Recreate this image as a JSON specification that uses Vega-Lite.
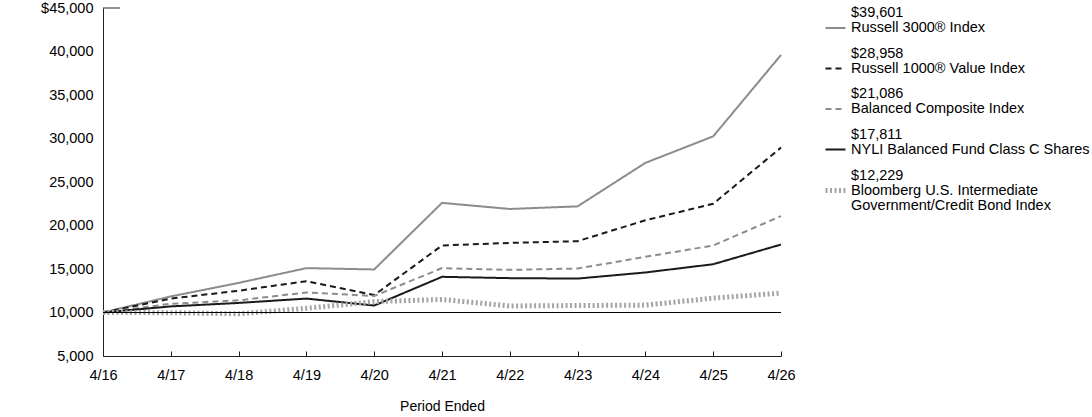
{
  "$schema": "https://vega.github.io/schema/vega-lite/v6.json",
  "width": 678,
  "height": 348,
  "autosize": {"type": "none"},
  "padding": {"left": 103, "top": 8, "right": 311, "bottom": 61},
  "background": "white",
  "config": {
    "font": "Liberation Sans",
    "view": {"stroke": null},
    "axis": {"labelFont": "Liberation Sans", "titleFont": "Liberation Sans", "labelColor": "#000", "titleColor": "#000", "grid": false}
  },
  "datasets": {
    "series": [
      {"idx": 0, "series": "Russell 3000® Index", "value": 10000},
      {"idx": 1, "series": "Russell 3000® Index", "value": 11850},
      {"idx": 2, "series": "Russell 3000® Index", "value": 13400},
      {"idx": 3, "series": "Russell 3000® Index", "value": 15100},
      {"idx": 4, "series": "Russell 3000® Index", "value": 14950},
      {"idx": 5, "series": "Russell 3000® Index", "value": 22600},
      {"idx": 6, "series": "Russell 3000® Index", "value": 21900},
      {"idx": 7, "series": "Russell 3000® Index", "value": 22200},
      {"idx": 8, "series": "Russell 3000® Index", "value": 27200},
      {"idx": 9, "series": "Russell 3000® Index", "value": 30250},
      {"idx": 10, "series": "Russell 3000® Index", "value": 39601},
      {"idx": 0, "series": "Russell 1000® Value Index", "value": 10000},
      {"idx": 1, "series": "Russell 1000® Value Index", "value": 11600},
      {"idx": 2, "series": "Russell 1000® Value Index", "value": 12500},
      {"idx": 3, "series": "Russell 1000® Value Index", "value": 13600},
      {"idx": 4, "series": "Russell 1000® Value Index", "value": 12000},
      {"idx": 5, "series": "Russell 1000® Value Index", "value": 17700},
      {"idx": 6, "series": "Russell 1000® Value Index", "value": 18000},
      {"idx": 7, "series": "Russell 1000® Value Index", "value": 18200},
      {"idx": 8, "series": "Russell 1000® Value Index", "value": 20600},
      {"idx": 9, "series": "Russell 1000® Value Index", "value": 22500},
      {"idx": 10, "series": "Russell 1000® Value Index", "value": 28958},
      {"idx": 0, "series": "Balanced Composite Index", "value": 10000},
      {"idx": 1, "series": "Balanced Composite Index", "value": 11000},
      {"idx": 2, "series": "Balanced Composite Index", "value": 11400},
      {"idx": 3, "series": "Balanced Composite Index", "value": 12300},
      {"idx": 4, "series": "Balanced Composite Index", "value": 11900},
      {"idx": 5, "series": "Balanced Composite Index", "value": 15100},
      {"idx": 6, "series": "Balanced Composite Index", "value": 14900},
      {"idx": 7, "series": "Balanced Composite Index", "value": 15050},
      {"idx": 8, "series": "Balanced Composite Index", "value": 16400},
      {"idx": 9, "series": "Balanced Composite Index", "value": 17700},
      {"idx": 10, "series": "Balanced Composite Index", "value": 21086},
      {"idx": 0, "series": "NYLI Balanced Fund Class C Shares", "value": 10000},
      {"idx": 1, "series": "NYLI Balanced Fund Class C Shares", "value": 10700},
      {"idx": 2, "series": "NYLI Balanced Fund Class C Shares", "value": 11100},
      {"idx": 3, "series": "NYLI Balanced Fund Class C Shares", "value": 11600},
      {"idx": 4, "series": "NYLI Balanced Fund Class C Shares", "value": 10800},
      {"idx": 5, "series": "NYLI Balanced Fund Class C Shares", "value": 14100},
      {"idx": 6, "series": "NYLI Balanced Fund Class C Shares", "value": 13950},
      {"idx": 7, "series": "NYLI Balanced Fund Class C Shares", "value": 13900},
      {"idx": 8, "series": "NYLI Balanced Fund Class C Shares", "value": 14600},
      {"idx": 9, "series": "NYLI Balanced Fund Class C Shares", "value": 15550},
      {"idx": 10, "series": "NYLI Balanced Fund Class C Shares", "value": 17811},
      {"idx": 0, "series": "Bloomberg U.S. Intermediate Government/Credit Bond Index", "value": 10000},
      {"idx": 1, "series": "Bloomberg U.S. Intermediate Government/Credit Bond Index", "value": 9980},
      {"idx": 2, "series": "Bloomberg U.S. Intermediate Government/Credit Bond Index", "value": 9850},
      {"idx": 3, "series": "Bloomberg U.S. Intermediate Government/Credit Bond Index", "value": 10480},
      {"idx": 4, "series": "Bloomberg U.S. Intermediate Government/Credit Bond Index", "value": 11250},
      {"idx": 5, "series": "Bloomberg U.S. Intermediate Government/Credit Bond Index", "value": 11500},
      {"idx": 6, "series": "Bloomberg U.S. Intermediate Government/Credit Bond Index", "value": 10750},
      {"idx": 7, "series": "Bloomberg U.S. Intermediate Government/Credit Bond Index", "value": 10800},
      {"idx": 8, "series": "Bloomberg U.S. Intermediate Government/Credit Bond Index", "value": 10850},
      {"idx": 9, "series": "Bloomberg U.S. Intermediate Government/Credit Bond Index", "value": 11650},
      {"idx": 10, "series": "Bloomberg U.S. Intermediate Government/Credit Bond Index", "value": 12229}
    ]
  },
  "layer": [
    {
      "data": {"name": "series"},
      "mark": {"type": "line", "strokeCap": "butt", "strokeJoin": "miter"},
      "encoding": {
        "x": {
          "field": "idx", "type": "quantitative",
          "scale": {"domain": [0, 10], "nice": false, "zero": false},
          "axis": {
            "values": [0, 1, 2, 3, 4, 5, 6, 7, 8, 9, 10],
            "labelExpr": "'4/' + (16 + datum.value)",
            "labelFontSize": 14.5, "labelPadding": 17,
            "tickSize": -5, "tickColor": "#222", "domainColor": "#222",
            "labelFlush": false, "labelOverlap": false,
            "title": "Period Ended", "titleFontSize": 14, "titleFontWeight": "normal", "titlePadding": 18
          }
        },
        "y": {
          "field": "value", "type": "quantitative",
          "scale": {"domain": [5000, 45000], "nice": false, "zero": false},
          "axis": {
            "values": [5000, 10000, 15000, 20000, 25000, 30000, 35000, 40000, 45000],
            "labelExpr": "datum.value == 45000 ? '$45,000' : format(datum.value, ',')",
            "labelFontSize": 14.5, "labelPadding": 10, "ticks": false,
            "domainColor": "#222", "title": null
          }
        },
        "color": {
          "field": "series", "type": "nominal",
          "scale": {
            "domain": ["Russell 3000® Index", "Russell 1000® Value Index", "Balanced Composite Index", "NYLI Balanced Fund Class C Shares", "Bloomberg U.S. Intermediate Government/Credit Bond Index"],
            "range": ["#8c8c8c", "#1a1a1a", "#8c8c8c", "#1a1a1a", "#a4a4a4"]
          },
          "legend": {
            "orient": "none", "legendX": 720, "legendY": 9, "title": null, "padding": 0,
            "symbolType": "stroke", "symbolSize": 400, "labelFontSize": 14.5, "labelFont": "Liberation Sans",
            "labelColor": "#000", "labelLimit": 400, "rowPadding": 10.5, "labelOffset": 3,
            "labelExpr": "datum.label == 'Russell 3000® Index' ? ['$39,601', 'Russell 3000® Index'] : datum.label == 'Russell 1000® Value Index' ? ['$28,958', 'Russell 1000® Value Index'] : datum.label == 'Balanced Composite Index' ? ['$21,086', 'Balanced Composite Index'] : datum.label == 'NYLI Balanced Fund Class C Shares' ? ['$17,811', 'NYLI Balanced Fund Class C Shares'] : ['$12,229', 'Bloomberg U.S. Intermediate', 'Government/Credit Bond Index']",
            "encode": {
              "labels": {"update": {"dy": {"value": -15}, "lineHeight": {"value": 15}}}
            }
          }
        },
        "strokeDash": {
          "field": "series", "type": "nominal",
          "scale": {
            "domain": ["Russell 3000® Index", "Russell 1000® Value Index", "Balanced Composite Index", "NYLI Balanced Fund Class C Shares", "Bloomberg U.S. Intermediate Government/Credit Bond Index"],
            "range": [[1, 0], [6, 4], [6, 4], [1, 0], [2, 2.5]]
          }
        },
        "strokeWidth": {
          "field": "series", "type": "nominal",
          "scale": {
            "type": "ordinal",
            "domain": ["Russell 3000® Index", "Russell 1000® Value Index", "Balanced Composite Index", "NYLI Balanced Fund Class C Shares", "Bloomberg U.S. Intermediate Government/Credit Bond Index"],
            "range": [2, 2, 2, 2, 5]
          }
        },
        "order": {"field": "idx", "type": "quantitative"}
      }
    },
    {
      "data": {"values": [{"value": 10000}]},
      "mark": {"type": "rule", "color": "#000", "strokeWidth": 1},
      "encoding": {
        "y": {"field": "value", "type": "quantitative", "axis": {"title": null}}
      }
    },
    {
      "data": {"values": [{"idx": 0, "idx2": 0.25, "value": 45000}]},
      "mark": {"type": "rule", "color": "#222", "strokeWidth": 1},
      "encoding": {
        "x": {"field": "idx", "type": "quantitative", "axis": {"title": "Period Ended"}},
        "x2": {"field": "idx2"},
        "y": {"field": "value", "type": "quantitative", "axis": {"title": null}}
      }
    }
  ]
}
